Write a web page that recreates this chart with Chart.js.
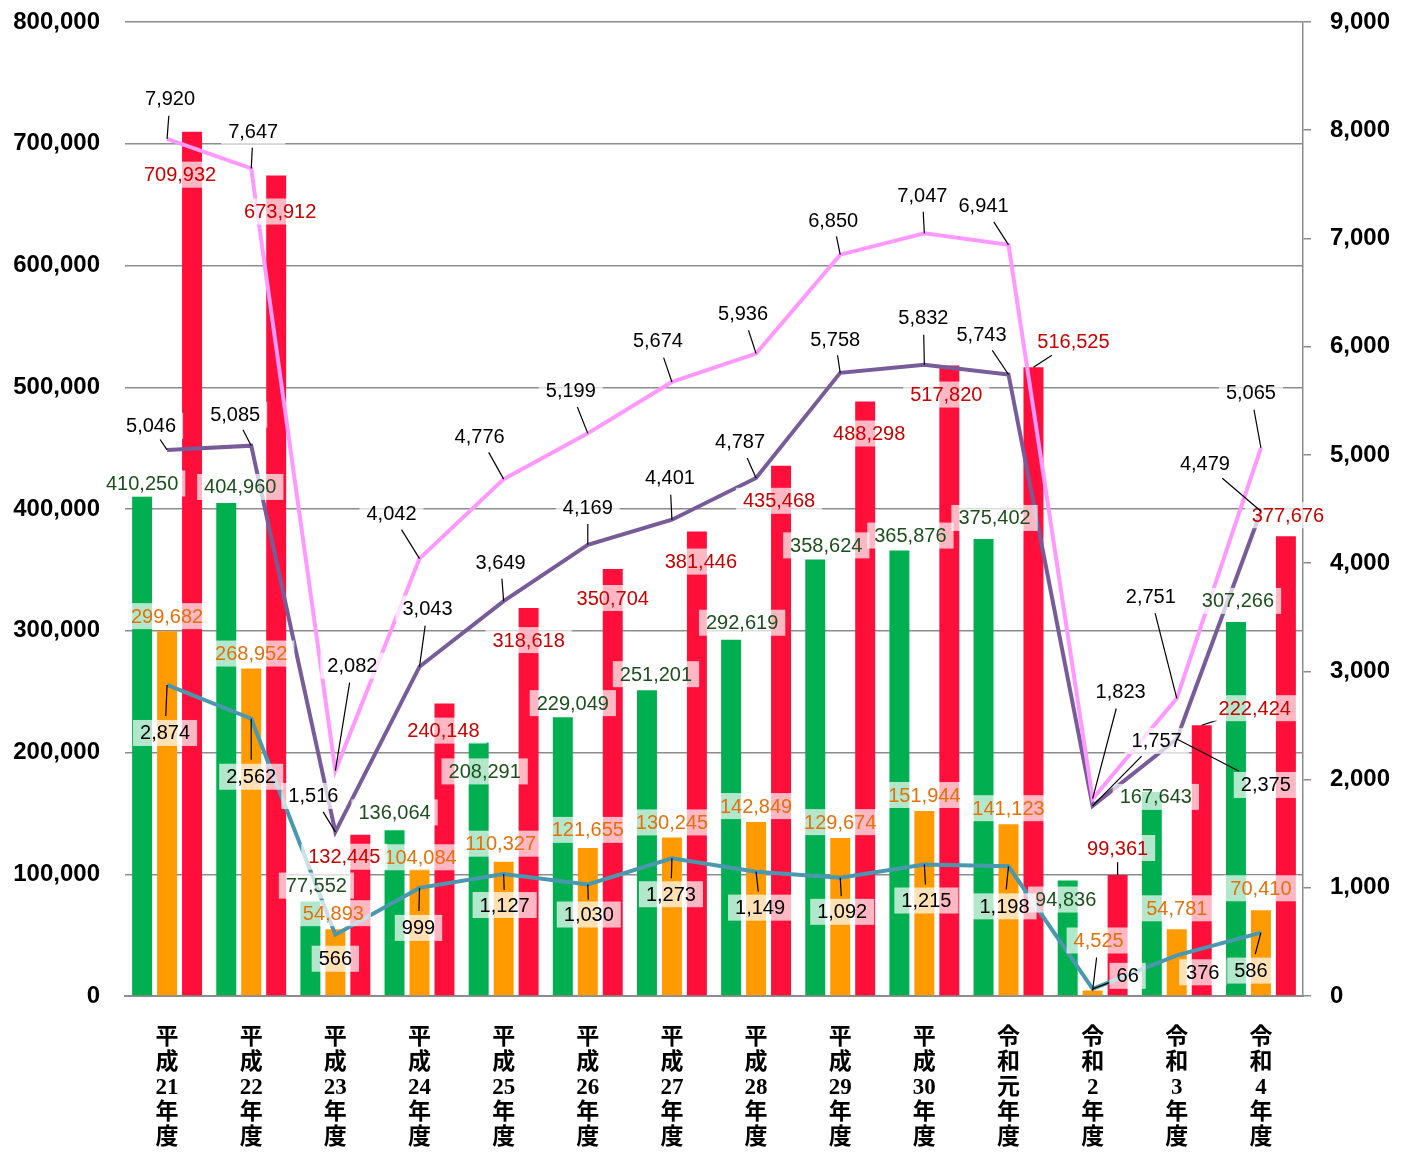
<!DOCTYPE html>
<html>
<head>
<meta charset="utf-8">
<script src="https://cdn.jsdelivr.net/npm/chart.js@4/dist/chart.umd.min.js"></script>
<style>
  html, body { margin: 0; padding: 0; background: #ffffff; }
  #wrap { width: 1410px; height: 1156px; }
</style>
</head>
<body>
<div id="wrap"><canvas id="c" width="1410" height="1156"></canvas></div>
<script>
// ---- data ----
const categories = ['平成21年度','平成22年度','平成23年度','平成24年度','平成25年度','平成26年度','平成27年度','平成28年度','平成29年度','平成30年度','令和元年度','令和2年度','令和3年度','令和4年度'];
const greenValues  = [410250, 404960, 77552, 136064, 208291, 229049, 251201, 292619, 358624, 365876, 375402, 94836, 167643, 307266];
const orangeValues = [299682, 268952, 54893, 104084, 110327, 121655, 130245, 142849, 129674, 151944, 141123, 4525, 54781, 70410];
const redValues    = [709932, 673912, 132445, 240148, 318618, 350704, 381446, 435468, 488298, 517820, 516525, 99361, 222424, 377676];
const pinkValues   = [7920, 7647, 2082, 4042, 4776, 5199, 5674, 5936, 6850, 7047, 6941, 1823, 2751, 5065];
const purpleValues = [5046, 5085, 1516, 3043, 3649, 4169, 4401, 4787, 5758, 5832, 5743, 1757, 2375, 4479];
const tealValues   = [2874, 2562, 566, 999, 1127, 1030, 1273, 1149, 1092, 1215, 1198, 66, 376, 586];
const leftAxis  = { min: 0, max: 800000, step: 100000 };
const rightAxis = { min: 0, max: 9000, step: 1000 };

// ---- label placement (pixel offsets of label centre from its mark) ----
const greenOffsets  = [[0,-13],[14,-16],[6,-16],[0,-18],[6,29],[10,-14],[9,-16],[11,-17],[11,-14],[11,-15],[11,-21],[-2,19],[4,5],[2,-21]];
const orangeOffsets = [[0,-15],[0,-15],[-2,-16],[1,-12],[-3,-18],[0,-18],[0,-15],[0,-16],[0,-16],[0,-16],[0,-16],[6,-50],[0,-21],[0,-22]];
const redOffsets    = [[-12,43],[4,36],[-16,22],[-1,27],[0,32],[0,29],[4,30],[-2,35],[4,32],[-3,29],[40,-26],[0,-27],[53,-17],[2,-21]];
const pinkOffsets   = [[3,-40],[2,-37],[17,-105],[-28,-45],[-24,-43],[-17,-43],[-14,-41],[-13,-40],[-7,-34],[-2,-38],[-25,-39],[28,-107],[-26,-102],[-10,-55]];
const purpleOffsets = [[-16,-24],[-16,-31],[-22,-36],[8,-58],[-3,-39],[0,-37],[-2,-42],[-16,-36],[-5,-33],[-1,-47],[-27,-40],[64,-65],[89,46],[-56,-48]];
const tealOffsets   = [[-2,48],[0,58],[0,24],[-1,40],[1,31],[1,30],[-1,36],[4,36],[2,34],[2,36],[-4,40],[35,-13],[26,17],[-10,38]];

const fmt = v => v.toLocaleString('en-US');

const labelSpecs = [
  { offsets: greenOffsets,  color: '#1d4f1d', bar: true },
  { offsets: orangeOffsets, color: '#e4700c', bar: true },
  { offsets: redOffsets,    color: '#c80000', bar: true },
  { offsets: pinkOffsets,   color: '#000000', bar: false },
  { offsets: purpleOffsets, color: '#000000', bar: false },
  { offsets: tealOffsets,   color: '#000000', bar: false }
];

// point where segment from (ax,ay) to box centre (cx,cy) enters the box
function boxEntry(ax, ay, cx, cy, hw, hh) {
  const dx = ax - cx, dy = ay - cy;
  let t = 1;
  if (Math.abs(dx) > 1e-6) t = Math.min(t, hw / Math.abs(dx));
  if (Math.abs(dy) > 1e-6) t = Math.min(t, hh / Math.abs(dy));
  return [cx + dx * t, cy + dy * t];
}

const dataLabelPlugin = {
  id: 'dataLabels',
  afterDatasetsDraw(chart) {
    const ctx = chart.ctx;
    ctx.save();
    const fontSize = 20;
    const boxH = 26, padX = 7;
    chart.data.datasets.forEach((ds, di) => {
      const spec = labelSpecs[di];
      const meta = chart.getDatasetMeta(di);
      meta.data.forEach((el, j) => {
        const ax = el.x, ay = el.y;
        const off = spec.offsets[j];
        const cx = ax + off[0], cy = ay + off[1];
        const text = fmt(ds.data[j]);
        ctx.font = 'normal ' + fontSize + 'px "Liberation Sans", Arial, sans-serif';
        const tw = ctx.measureText(text).width;
        const hw = tw / 2 + padX, hh = boxH / 2;
        const x0 = cx - hw, x1 = cx + hw;
        const y0 = cy - hh, y1 = cy + hh;
        const inside = ax >= x0 && ax <= x1 && ay >= y0 && ay <= y1;
        let leader = false, ex = ax, ey = ay;
        if (!inside) {
          const e = boxEntry(ax, ay, cx, cy, hw - 4, hh - 2);
          ex = e[0]; ey = e[1];
          const len = Math.hypot(ex - ax, ey - ay);
          leader = len > 14;
          if (spec.bar) {
            const half = el.width / 2;
            const overlapsBar = x1 > ax - half && x0 < ax + half;
            if (overlapsBar && y0 > ay) leader = false;
          }
          if (leader) {
            const g = Math.min(6, len * 0.2);
            ex = ex + (ax - ex) * g / len;
            ey = ey + (ay - ey) * g / len;
          }
        }
        if (leader) {
          ctx.strokeStyle = '#000000';
          ctx.lineWidth = 1.2;
          ctx.beginPath();
          ctx.moveTo(ax, ay);
          ctx.lineTo(ex, ey);
          ctx.stroke();
        }
        ctx.fillStyle = 'rgba(255,255,255,0.7)';
        ctx.fillRect(x0, y0, x1 - x0, y1 - y0);
        ctx.fillStyle = spec.color;
        ctx.textAlign = 'center';
        ctx.textBaseline = 'middle';
        ctx.fillText(text, cx, cy + 1);
      });
    });
    ctx.restore();
  }
};

const barCommon = { type: 'bar', yAxisID: 'y', order: 2, barPercentage: 0.8, categoryPercentage: 0.89 };
const lineCommon = { type: 'line', yAxisID: 'y1', order: 1, borderWidth: 4, pointRadius: 0, tension: 0, fill: false };

new Chart(document.getElementById('c'), {
  type: 'bar',
  data: {
    labels: categories,
    datasets: [
      Object.assign({ label: 'green',  data: greenValues,  backgroundColor: '#00b050' }, barCommon),
      Object.assign({ label: 'orange', data: orangeValues, backgroundColor: '#ff9a00' }, barCommon),
      Object.assign({ label: 'red',    data: redValues,    backgroundColor: '#ff0f3a' }, barCommon),
      Object.assign({ label: 'pink',   data: pinkValues,   borderColor: '#ff99ff' }, lineCommon),
      Object.assign({ label: 'purple', data: purpleValues, borderColor: '#775c99' }, lineCommon),
      Object.assign({ label: 'teal',   data: tealValues,   borderColor: '#4a98b0' }, lineCommon)
    ]
  },
  options: {
    responsive: false,
    animation: false,
    devicePixelRatio: 1,
    layout: { padding: { top: 22, right: 0, bottom: 0, left: 0 } },
    plugins: { legend: { display: false }, tooltip: { enabled: false } },
    scales: {
      x: {
        grid: { display: false, drawTicks: false },
        border: { display: true, color: '#8c8c8c', width: 2 },
        ticks: {
          autoSkip: false, maxRotation: 0, minRotation: 0, padding: 30, color: '#000000',
          font: { family: '"Liberation Serif", "Noto Sans CJK JP", serif', size: 23, weight: 'bold', lineHeight: '25px' },
          callback: (v, i) => categories[i].match(/\d+|./g)
        },
        afterFit: s => { s.height = 160; }
      },
      y: {
        position: 'left', min: leftAxis.min, max: leftAxis.max,
        ticks: { stepSize: leftAxis.step, padding: 25, color: '#000000',
          font: { family: '"Liberation Sans", Arial, sans-serif', size: 24, weight: 'bold' },
          callback: v => fmt(v) },
        grid: { color: '#8c8c8c', lineWidth: 1.5, drawTicks: false },
        border: { display: false },
        afterFit: s => { s.width = 125; s.paddingTop = 0; s.paddingBottom = 0; }
      },
      y1: {
        position: 'right', min: rightAxis.min, max: rightAxis.max,
        ticks: { stepSize: rightAxis.step, padding: 19, color: '#000000',
          font: { family: '"Liberation Sans", Arial, sans-serif', size: 24, weight: 'bold' },
          callback: v => fmt(v) },
        grid: { drawOnChartArea: false, drawTicks: true, tickLength: 8, color: '#8c8c8c', lineWidth: 1.5 },
        border: { display: true, color: '#8c8c8c', width: 1.5 },
        afterFit: s => { s.width = 107; s.paddingTop = 0; s.paddingBottom = 0; }
      }
    }
  },
  plugins: [dataLabelPlugin]
});
</script>
</body>
</html>
